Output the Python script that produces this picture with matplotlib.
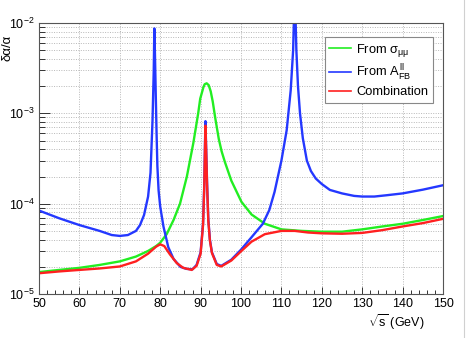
#!/usr/bin/env python3
"""
Relative precision on alpha vs sqrt(s): sigma_mumu, A_FB and their combination.
"""

import matplotlib
matplotlib.use("Agg")
import matplotlib.pyplot as plt
from matplotlib.lines import Line2D
from matplotlib.ticker import LogLocator, MultipleLocator, NullFormatter

plt.rcParams["font.family"] = ["Liberation Sans", "DejaVu Sans"]
plt.rcParams["mathtext.fontset"] = "custom"
plt.rcParams["mathtext.rm"] = "Liberation Sans"
plt.rcParams["mathtext.it"] = "Liberation Sans"
plt.rcParams["mathtext.sf"] = "Liberation Sans"

# From sigma_mumu
x_sigma = [50, 55, 60, 65, 70, 74, 77, 79, 80, 81.6, 83.3, 84.9, 86.6, 88.2,
           89.4, 89.9, 90.7, 91.0, 91.5, 92.0, 92.5, 93.0, 93.6, 94.5, 95.2,
           96.0, 97.6, 100.1, 102.6, 105.9, 110, 115, 120, 125, 130, 135,
           140, 145, 150]
y_sigma = [1.75e-5, 1.85e-5, 1.95e-5, 2.1e-5, 2.3e-5, 2.6e-5, 3.0e-5, 3.4e-5,
           3.7e-5, 4.6e-5, 6.6e-5, 1.0e-4, 2.0e-4, 4.7e-4, 1.0e-3, 1.45e-3,
           1.95e-3, 2.1e-3, 2.15e-3, 2.05e-3, 1.75e-3, 1.35e-3, 9.0e-4, 5.2e-4,
           3.8e-4, 2.9e-4, 1.8e-4, 1.05e-4, 7.6e-5, 6.0e-5, 5.2e-5, 5.0e-5,
           4.9e-5, 4.9e-5, 5.2e-5, 5.6e-5, 6.0e-5, 6.6e-5, 7.3e-5]

# From A_FB
x_afb = [50, 55, 60, 65, 68, 70, 72, 74, 75, 76, 77, 77.6, 78.1, 78.4, 78.55,
         78.7, 78.9, 79.1, 79.3, 79.6, 80.0, 80.8, 82.0, 83.3, 85, 86.5, 88,
         89, 90, 90.6, 90.9, 91.1, 91.2, 91.35, 91.6, 91.9, 92.3, 92.8, 94,
         95.1, 97.6, 100, 102.5, 105.4, 107, 108.3, 110, 111.3, 112.3, 112.9,
         113.3, 113.7, 114.1, 114.6, 115.3, 116.3, 117.3, 118.5, 120, 122,
         125, 128, 130, 133, 136, 140, 145, 150]
y_afb = [8.4e-5, 6.9e-5, 5.8e-5, 5.0e-5, 4.5e-5, 4.4e-5, 4.5e-5, 5.0e-5,
         5.8e-5, 7.5e-5, 1.2e-4, 2.2e-4, 8.4e-4, 3.0e-3, 8.7e-3, 4.5e-3,
         1.6e-3, 6.0e-4, 2.6e-4, 1.4e-4, 9.3e-5, 5.6e-5, 3.3e-5, 2.45e-5,
         2.0e-5, 1.9e-5, 1.88e-5, 2.1e-5, 2.9e-5, 6.0e-5, 1.6e-4, 5.0e-4,
         8.2e-4, 4.5e-4, 1.7e-4, 6.8e-5, 4.0e-5, 2.9e-5, 2.15e-5, 2.05e-5,
         2.4e-5, 3.1e-5, 4.2e-5, 6.0e-5, 8.5e-5, 1.35e-4, 3.0e-4, 6.5e-4,
         1.8e-3, 5.0e-3, 2.5e-2, 5.0e-3, 2.0e-3, 1.0e-3, 5.3e-4, 3.0e-4,
         2.3e-4, 1.9e-4, 1.65e-4, 1.42e-4, 1.3e-4, 1.22e-4, 1.2e-4, 1.2e-4,
         1.24e-4, 1.3e-4, 1.43e-4, 1.6e-4]

# Combination
x_comb = [50, 55, 60, 65, 70, 74, 77, 79, 80, 81, 82.4, 84.1, 85.7, 87.8, 89,
          90, 90.6, 90.9, 91.1, 91.2, 91.35, 91.6, 91.9, 92.3, 92.8, 94, 95.1,
          97.6, 100.1, 102.6, 105.9, 110, 113.3, 116.6, 120, 125, 130, 135,
          140, 145, 150]
y_comb = [1.7e-5, 1.78e-5, 1.85e-5, 1.92e-5, 2.02e-5, 2.3e-5, 2.8e-5, 3.35e-5,
          3.55e-5, 3.4e-5, 2.75e-5, 2.2e-5, 1.95e-5, 1.85e-5, 2.05e-5, 2.8e-5,
          5.8e-5, 1.5e-4, 4.6e-4, 7.3e-4, 4.2e-4, 1.6e-4, 6.5e-5, 3.9e-5,
          2.85e-5, 2.1e-5, 2.02e-5, 2.35e-5, 3.0e-5, 3.8e-5, 4.6e-5, 5.0e-5,
          5.0e-5, 4.8e-5, 4.7e-5, 4.65e-5, 4.75e-5, 5.1e-5, 5.6e-5, 6.1e-5,
          6.8e-5]

GREEN = "#22ee22"
BLUE = "#2438ff"
RED = "#ff2020"
FRAME = "#555555"


def main():
    fig = plt.figure(figsize=(4.66, 3.38), dpi=100)
    ax = fig.add_axes([0.0837, 0.130, 0.867, 0.802])

    ax.plot(x_sigma, y_sigma, color=GREEN, lw=1.7, label=r"From $\sigma_{\mu\mu}$")
    ax.plot(x_afb, y_afb, color=BLUE, lw=1.7,
            label=r"From $A_{\mathrm{FB}}^{\mathrm{ll}}$")
    ax.plot(x_comb, y_comb, color=RED, lw=1.7, label="Combination")

    ax.set_yscale("log")
    ax.set_xlim(50, 150)
    ax.set_ylim(1e-5, 1e-2)

    ax.xaxis.set_major_locator(MultipleLocator(10))
    ax.xaxis.set_minor_locator(MultipleLocator(2))
    ax.yaxis.set_major_locator(LogLocator(base=10))
    ax.yaxis.set_minor_locator(LogLocator(base=10, subs=range(2, 10)))
    ax.yaxis.set_minor_formatter(NullFormatter())

    ax.tick_params(axis="both", which="both", direction="in", colors="#333333",
                   labelcolor="black", labelsize=9)
    ax.tick_params(axis="x", which="major", length=5, width=0.7, pad=3)
    ax.tick_params(axis="x", which="minor", length=3, width=0.7)
    ax.tick_params(axis="y", which="major", length=8, width=0.7, pad=3)
    ax.tick_params(axis="y", which="minor", length=4.3, width=0.7)

    ax.grid(True, axis="x", which="major", linestyle=(0, (1, 1.5)),
            color="#b8b8b8", lw=0.7)
    ax.grid(True, axis="y", which="both", linestyle=(0, (1, 1.5)),
            color="#b8b8b8", lw=0.7)
    ax.set_axisbelow(True)

    for spine in ax.spines.values():
        spine.set_color(FRAME)
        spine.set_linewidth(0.8)

    ax.set_xlabel(r"$\sqrt{s}$ (GeV)", fontsize=9, loc="right")
    ax.xaxis.set_label_coords(0.955, -0.068)
    ax.set_ylabel("δα/α", fontsize=9.5, loc="top")
    ax.yaxis.set_label_coords(-0.062, 0.955)

    leg = ax.legend(loc="upper right", bbox_to_anchor=(0.975, 0.948),
                    fontsize=9.3, fancybox=False, framealpha=1,
                    edgecolor="#888888", handlelength=1.7, handletextpad=0.4,
                    borderpad=0.35, labelspacing=0.3, borderaxespad=0)
    leg.get_frame().set_linewidth(0.8)
    for line in leg.get_lines():
        line.set_linewidth(1.2)

    # faint border at the right edge of the canvas
    fig.add_artist(Line2D([0.996, 0.996], [0, 1], transform=fig.transFigure,
                          color="#d0d0d0", lw=0.8))

    fig.savefig("out.png", dpi=100)
    plt.close(fig)


if __name__ == "__main__":
    main()
